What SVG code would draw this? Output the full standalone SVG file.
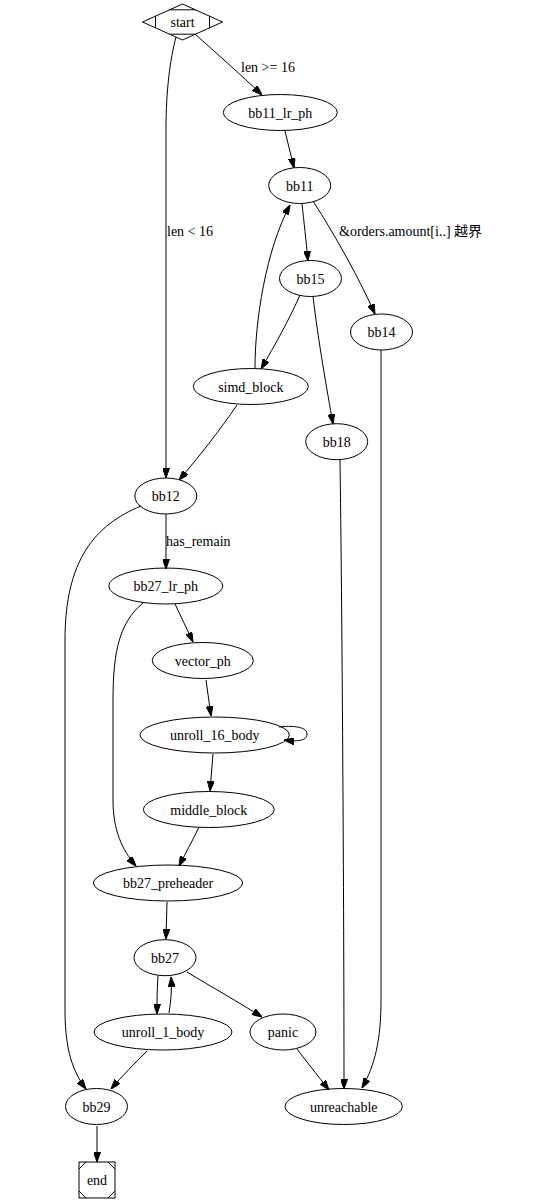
<svg xmlns="http://www.w3.org/2000/svg" width="550" height="1203" viewBox="0 0 550 1203">
<style>
  .n ellipse, .n polygon, .n rect { fill: none; stroke: #000; stroke-width: 1; }
  .n line, .n polyline { stroke: #000; stroke-width: 1; fill: none; }
  text { font-family: "Liberation Serif", "Noto Sans CJK SC", serif; font-size: 14px; fill: #000; }
  .n text { text-anchor: middle; }
  .e path { fill: none; stroke: #000; stroke-width: 1; marker-end: url(#ah); }
</style>
<defs>
  <marker id="ah" markerUnits="userSpaceOnUse" markerWidth="10" markerHeight="7" refX="10" refY="3.5" orient="auto">
    <path d="M0,0 L10,3.5 L0,7 z" fill="#000" stroke="#000" stroke-width="1"/>
  </marker>
</defs>
<rect width="550" height="1203" fill="#fff"/>

<g id="edges" class="e">
  <path d="M195,34 C215,52 240,74 262,95"/>
  <path d="M176,37 C170,60 166,90 166,130 L166,478"/>
  <path d="M285,131 L294,168"/>
  <path d="M302,204 C304,222 306,240 308,261"/>
  <path d="M313,201 C335,235 360,280 375,314"/>
  <path d="M300,295 C290,318 275,345 261,369"/>
  <path d="M313,296 C318,340 327,390 333,424"/>
  <path d="M255,368 C255,320 266,250 290,205"/>
  <path d="M237,405 C220,430 198,458 179,480"/>
  <path d="M381,350 C381,500 381,800 381,1000 C381,1040 375,1065 362,1088"/>
  <path d="M340,460 C342,600 344,900 344,1089"/>
  <path d="M166,514 L166,569"/>
  <path d="M141,506 C95,525 65,560 65,640 L65,1010 C65,1050 73,1072 86,1089"/>
  <path d="M175,604 L193,642"/>
  <path d="M143,603 C120,622 113,650 113,700 L113,800 C113,830 122,850 136,866"/>
  <path d="M206,680 L211,716"/>
  <path d="M279,727 C297,725 307,728 307,734 C307,740 300,742 284,740"/>
  <path d="M213,754 L210,791"/>
  <path d="M199,827 C193,840 186,852 179,866"/>
  <path d="M167,902 L166,939"/>
  <path d="M158,976 C157,990 157,1000 157,1014"/>
  <path d="M169,1013 C171,1000 172,990 171,977"/>
  <path d="M187,972 C210,986 240,1003 262,1017"/>
  <path d="M147,1051 C135,1063 122,1076 111,1089"/>
  <path d="M297,1049 C307,1062 318,1076 329,1090"/>
  <path d="M97,1126 L97,1162"/>
  <text x="241" y="72">len &gt;= 16</text>
  <text x="167" y="236">len &lt; 16</text>
  <text x="339" y="236">&amp;orders.amount[i..] 越界</text>
  <text x="166" y="546">has_remain</text>
</g>

<g id="start" class="n">
  <polygon points="182.5,4 222.5,22 182.5,40 142.5,22"/>
  <line x1="169.5" y1="9.8" x2="195.5" y2="9.8"/>
  <line x1="169.5" y1="34.2" x2="195.5" y2="34.2"/>
  <line x1="155.5" y1="15.9" x2="155.5" y2="28.1"/>
  <line x1="209.5" y1="15.9" x2="209.5" y2="28.1"/>
  <text x="182.5" y="27">start</text>
</g>
<g id="bb11_lr_ph" class="n"><ellipse cx="280.3" cy="112.5" rx="57" ry="18"/><text x="280.3" y="117.5">bb11_lr_ph</text></g>
<g id="bb11" class="n"><ellipse cx="299.7" cy="185.5" rx="31" ry="18"/><text x="299.7" y="190.5">bb11</text></g>
<g id="bb15" class="n"><ellipse cx="310.5" cy="278.5" rx="31" ry="18"/><text x="310.5" y="283.5">bb15</text></g>
<g id="bb14" class="n"><ellipse cx="381.5" cy="332" rx="31" ry="18"/><text x="381.5" y="337">bb14</text></g>
<g id="simd_block" class="n"><ellipse cx="250.8" cy="386.5" rx="57.5" ry="18"/><text x="250.8" y="391.5">simd_block</text></g>
<g id="bb18" class="n"><ellipse cx="336.7" cy="441.7" rx="31" ry="18"/><text x="336.7" y="446.7">bb18</text></g>
<g id="bb12" class="n"><ellipse cx="165.8" cy="496" rx="31" ry="18"/><text x="165.8" y="501">bb12</text></g>
<g id="bb27_lr_ph" class="n"><ellipse cx="165.8" cy="586" rx="57" ry="18"/><text x="165.8" y="591">bb27_lr_ph</text></g>
<g id="vector_ph" class="n"><ellipse cx="202.8" cy="660.5" rx="50.5" ry="18"/><text x="202.8" y="665.5">vector_ph</text></g>
<g id="unroll_16_body" class="n"><ellipse cx="214.7" cy="735" rx="74.7" ry="18"/><text x="214.7" y="740">unroll_16_body</text></g>
<g id="middle_block" class="n"><ellipse cx="208.8" cy="809.5" rx="65.5" ry="18"/><text x="208.8" y="814.5">middle_block</text></g>
<g id="bb27_preheader" class="n"><ellipse cx="168" cy="883" rx="74.7" ry="18"/><text x="168" y="888">bb27_preheader</text></g>
<g id="bb27" class="n"><ellipse cx="165" cy="957.7" rx="31" ry="18"/><text x="165" y="962.7">bb27</text></g>
<g id="unroll_1_body" class="n"><ellipse cx="163" cy="1032" rx="69" ry="18"/><text x="163" y="1037">unroll_1_body</text></g>
<g id="panic" class="n"><ellipse cx="283" cy="1032" rx="33" ry="18"/><text x="283" y="1037">panic</text></g>
<g id="bb29" class="n"><ellipse cx="96.5" cy="1106.5" rx="31" ry="18"/><text x="96.5" y="1111.5">bb29</text></g>
<g id="unreachable" class="n"><ellipse cx="343.7" cy="1106.5" rx="58.7" ry="18"/><text x="343.7" y="1111.5">unreachable</text></g>
<g id="end" class="n">
  <rect x="79" y="1162" width="36" height="36"/>
  <line x1="79" y1="1169" x2="86" y2="1162"/>
  <line x1="108" y1="1162" x2="115" y2="1169"/>
  <line x1="79" y1="1191" x2="86" y2="1198"/>
  <line x1="108" y1="1198" x2="115" y2="1191"/>
  <text x="97" y="1185">end</text>
</g>
</svg>
